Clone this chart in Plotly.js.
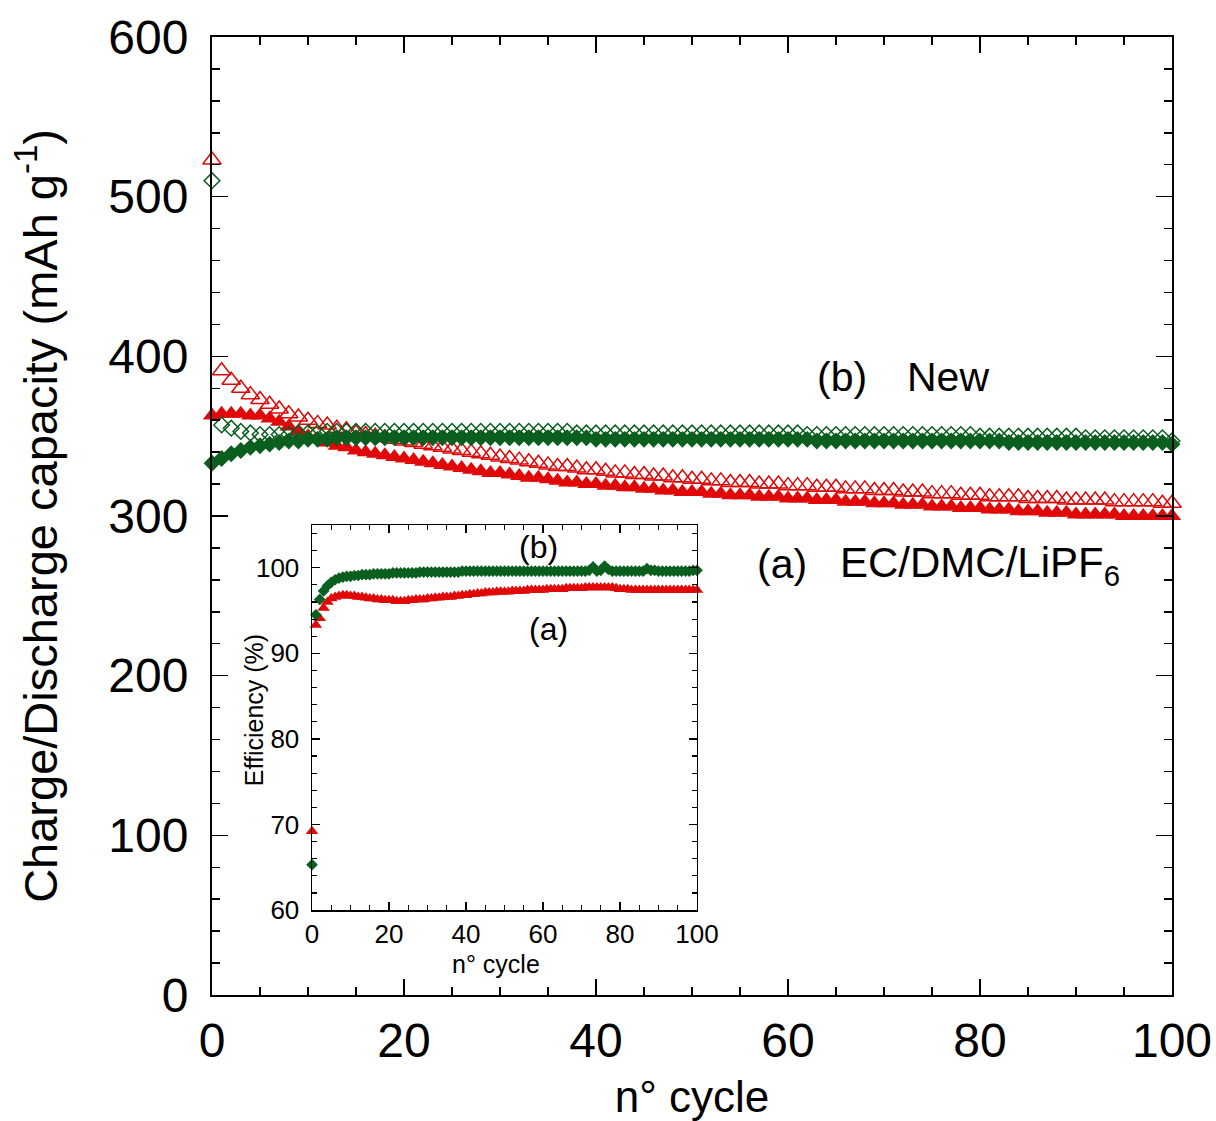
<!DOCTYPE html>
<html>
<head>
<meta charset="utf-8">
<script src="https://cdn.plot.ly/plotly-3.0.1.min.js"></script>
<style>html,body{margin:0;padding:0;background:#fff;}#chart{width:1216px;height:1121px;}</style>
</head>
<body>
<div id="chart"></div>
<script>
// cycle numbers
var cycles = [0,1,2,3,4,5,6,7,8,9,10,11,12,13,14,15,16,17,18,19,20,21,22,23,24,25,26,27,28,29,30,31,32,33,34,35,36,37,38,39,40,41,42,43,44,45,46,47,48,49,50,51,52,53,54,55,56,57,58,59,60,61,62,63,64,65,66,67,68,69,70,71,72,73,74,75,76,77,78,79,80,81,82,83,84,85,86,87,88,89,90,91,92,93,94,95,96,97,98,99,100];

// (a) EC/DMC/LiPF6 - charge (open triangles), mAh/g
var aCharge = [523,391,385,380,376,373,370,367,364,362,
360,358,357,355,354,352,351,350,349,348,
347,346,345,344,343,342,341,340,339,338,
337,336,335,334,333,332,331,331,330,329,
329,328,327,327,326,326,325,325,324,324,
323,323,322,322,321,321,321,320,320,320,
319,319,319,318,318,318,317,317,317,316,
316,316,315,315,315,314,314,314,313,313,
313,312,312,312,312,311,311,311,311,310,
310,310,310,310,309,309,309,309,309,308,308];

// (a) discharge (filled triangles)
var aDischarge = [363,364,364,364,363,363,361,359,356,353,
350,348,346,344,343,341,340,339,338,337,
336,335,334,333,332,331,330,329,328,327,
327,326,325,324,324,323,322,321,321,320,
320,319,319,318,318,317,317,316,316,315,
315,315,314,314,313,313,313,312,312,312,
311,311,311,310,310,310,309,309,309,308,
308,308,307,307,307,306,306,306,305,305,
305,304,304,304,303,303,303,302,302,302,
301,301,301,301,301,300,300,300,300,300,300];

// (b) New - charge (open diamonds)
var bCharge = [510,357,355,353,352,351,351,351,351,352,
352,352,353,353,353,353,353,353,353,353,
353,353,353,353,353,353,353,353,353,353,
353,353,353,353,353,353,353,353,352,352,
352,352,352,352,352,352,352,352,352,352,
352,352,352,352,352,352,352,352,352,352,
352,352,351,351,351,351,351,351,351,351,
351,351,351,351,351,351,351,351,351,351,
350,350,350,350,350,350,350,350,350,350,
350,349,349,349,349,349,349,349,349,349,347];

// (b) discharge (filled diamonds)
var bDischarge = [333,336,339,341,343,344,345,346,347,347,
348,348,348,349,349,349,349,349,349,349,
349,349,349,349,349,349,349,349,349,349,
349,349,349,349,349,349,349,349,349,349,
348,348,348,348,348,348,348,348,348,348,
348,348,348,348,348,348,348,348,348,348,
348,348,348,347,347,347,347,347,347,347,
347,347,347,347,347,347,347,347,347,347,
347,347,347,346,346,346,346,346,346,346,
346,346,346,346,346,346,346,346,346,346,345];

// Coulombic efficiency (%) - inset
var aEff = [69.2,93.3,94.1,95.3,96.0,96.4,96.6,96.7,96.8,96.8,
96.7,96.7,96.6,96.6,96.5,96.4,96.4,96.3,96.3,96.2,
96.2,96.2,96.1,96.1,96.1,96.2,96.2,96.3,96.3,96.3,
96.4,96.4,96.5,96.5,96.6,96.6,96.6,96.7,96.7,96.8,
96.8,96.9,96.9,97.0,97.0,97.1,97.1,97.1,97.2,97.2,
97.2,97.2,97.3,97.3,97.3,97.3,97.4,97.4,97.4,97.4,
97.4,97.5,97.5,97.5,97.5,97.5,97.6,97.6,97.6,97.6,
97.6,97.7,97.7,97.7,97.7,97.7,97.7,97.7,97.7,97.6,
97.5,97.5,97.5,97.4,97.4,97.4,97.4,97.4,97.4,97.4,
97.4,97.4,97.4,97.4,97.4,97.4,97.4,97.4,97.4,97.4,97.4];

var bEff = [65.3,94.5,96.3,97.3,97.9,98.3,98.6,98.8,98.9,99.0,
99.0,99.1,99.1,99.2,99.2,99.2,99.3,99.3,99.3,99.3,
99.3,99.4,99.4,99.4,99.4,99.4,99.4,99.4,99.5,99.5,
99.5,99.5,99.5,99.5,99.5,99.5,99.5,99.5,99.5,99.6,
99.6,99.6,99.6,99.6,99.6,99.6,99.6,99.6,99.6,99.6,
99.6,99.6,99.6,99.6,99.6,99.6,99.6,99.6,99.6,99.6,
99.6,99.6,99.6,99.6,99.6,99.6,99.6,99.6,99.6,99.6,
99.6,99.6,99.7,100.1,99.6,99.7,100.2,99.8,99.6,99.6,
99.6,99.6,99.6,99.6,99.6,99.6,99.6,99.9,99.7,99.7,
99.6,99.6,99.6,99.6,99.6,99.6,99.6,99.6,99.6,99.7,99.7];

var RED = '#e00808';
var GREEN = '#0a5e1e';
var FONT = 'Liberation Sans, Arial, Helvetica, sans-serif';

var traces = [
  {x: cycles, y: aCharge, type: 'scatter', mode: 'markers', cliponaxis: false, name: '(a) charge',
   marker: {symbol: 'triangle-up-open', size: 16, color: RED, line: {color: RED, width: 1.5}}},
  {x: cycles, y: aDischarge, type: 'scatter', mode: 'markers', cliponaxis: false, name: '(a) discharge',
   marker: {symbol: 'triangle-up', size: 16, color: RED, line: {width: 0}}},
  {x: cycles, y: bCharge, type: 'scatter', mode: 'markers', cliponaxis: false, name: '(b) charge',
   marker: {symbol: 'diamond-open', size: 12, color: GREEN, line: {color: GREEN, width: 1.5}}},
  {x: cycles, y: bDischarge, type: 'scatter', mode: 'markers', cliponaxis: false, name: '(b) discharge',
   marker: {symbol: 'diamond', size: 13, color: GREEN, line: {width: 0}}},
  {x: cycles, y: aEff, xaxis: 'x2', yaxis: 'y2', type: 'scatter', mode: 'markers', cliponaxis: false, name: '(a) eff',
   marker: {symbol: 'triangle-up', size: 11, color: RED, line: {width: 0}}},
  {x: cycles, y: bEff, xaxis: 'x2', yaxis: 'y2', type: 'scatter', mode: 'markers', cliponaxis: false, name: '(b) eff',
   marker: {symbol: 'diamond', size: 9, color: GREEN, line: {width: 0}}}
];

var mainAxis = {
  showline: true, linecolor: 'black', linewidth: 2, mirror: 'ticks',
  ticks: 'inside', ticklen: 16, tickwidth: 1.5, tickcolor: 'black',
  showgrid: false, zeroline: false,
  tickfont: {family: FONT, size: 48, color: 'black'}
};

var layout = {
  width: 1216, height: 1121,
  margin: {l: 212, r: 44, t: 37, b: 126},
  paper_bgcolor: 'white', plot_bgcolor: 'white',
  showlegend: false,
  font: {family: FONT, color: 'black'},
  xaxis: Object.assign({}, mainAxis, {
    range: [0, 100], dtick: 20, tick0: 0, domain: [0, 1], anchor: 'y',
    minor: {dtick: 5, ticklen: 8, tickwidth: 1.5, tickcolor: 'black', ticks: 'inside'},
    ticklabelstandoff: 2,
    title: {text: 'n° cycle', font: {family: FONT, size: 44, color: 'black'}, standoff: 16}
  }),
  yaxis: Object.assign({}, mainAxis, {
    range: [0, 600], dtick: 100, tick0: 0, domain: [0, 1], anchor: 'x',
    minor: {dtick: 20, ticklen: 8, tickwidth: 1.5, tickcolor: 'black', ticks: 'inside'},
    ticklabelstandoff: 12,
    title: {text: 'Charge/Discharge capacity (mAh g<sup>-1</sup>)', font: {family: FONT, size: 47, color: 'black'}, standoff: 36}
  }),
  xaxis2: {
    domain: [0.1042, 0.5052], anchor: 'y2', range: [0, 100], dtick: 20, tick0: 0,
    showline: true, linecolor: 'black', linewidth: 1.5, mirror: 'ticks',
    ticks: 'inside', ticklen: 8, tickwidth: 1.2, tickcolor: 'black',
    minor: {dtick: 5, ticklen: 5, tickwidth: 1.2, tickcolor: 'black', ticks: 'inside'},
    showgrid: false, zeroline: false,
    tickfont: {family: FONT, size: 26, color: 'black'},
    ticklabelstandoff: 0
  },
  yaxis2: {
    domain: [0.0887, 0.4906], anchor: 'x2', range: [60, 105], dtick: 10, tick0: 60,
    showline: true, linecolor: 'black', linewidth: 1.5, mirror: 'ticks',
    ticks: 'inside', ticklen: 8, tickwidth: 1.2, tickcolor: 'black',
    minor: {dtick: 2, ticklen: 5, tickwidth: 1.2, tickcolor: 'black', ticks: 'inside'},
    showgrid: false, zeroline: false,
    tickfont: {family: FONT, size: 26, color: 'black'},
    ticklabelstandoff: 6
  },
  annotations: [
    {xref: 'x', yref: 'y', x: 65.6, y: 387, text: '(b)', showarrow: false, xanchor: 'center', yanchor: 'middle',
     font: {family: FONT, size: 41, color: 'black'}},
    {xref: 'x', yref: 'y', x: 72.2, y: 387, text: 'New', showarrow: false, xanchor: 'left', yanchor: 'middle',
     font: {family: FONT, size: 41, color: 'black'}},
    {xref: 'x', yref: 'y', x: 59.4, y: 270, text: '(a)', showarrow: false, xanchor: 'center', yanchor: 'middle',
     font: {family: FONT, size: 41, color: 'black'}},
    {xref: 'x', yref: 'y', x: 65.2, y: 269, text: 'EC/DMC/LiPF<sub>6</sub>', showarrow: false, xanchor: 'left', yanchor: 'middle',
     font: {family: FONT, size: 42, color: 'black'}},
    {xref: 'x2', yref: 'y2', x: 58.7, y: 102.4, text: '(b)', showarrow: false, xanchor: 'center', yanchor: 'middle',
     font: {family: FONT, size: 32, color: 'black'}},
    {xref: 'x2', yref: 'y2', x: 61.3, y: 92.9, text: '(a)', showarrow: false, xanchor: 'center', yanchor: 'middle',
     font: {family: FONT, size: 32, color: 'black'}},
    // inset axis titles
    {xref: 'paper', yref: 'paper', x: 0.2958, y: 0.0326, text: 'n° cycle', showarrow: false, xanchor: 'center', yanchor: 'middle',
     font: {family: FONT, size: 25, color: 'black'}},
    {xref: 'paper', yref: 'paper', x: 0.0440, y: 0.2975, text: 'Efficiency (%)', textangle: -90, showarrow: false, xanchor: 'center', yanchor: 'middle',
     font: {family: FONT, size: 25, color: 'black'}}
  ]
};

Plotly.newPlot('chart', traces, layout, {displayModeBar: false, staticPlot: true});
</script>
</body>
</html>
